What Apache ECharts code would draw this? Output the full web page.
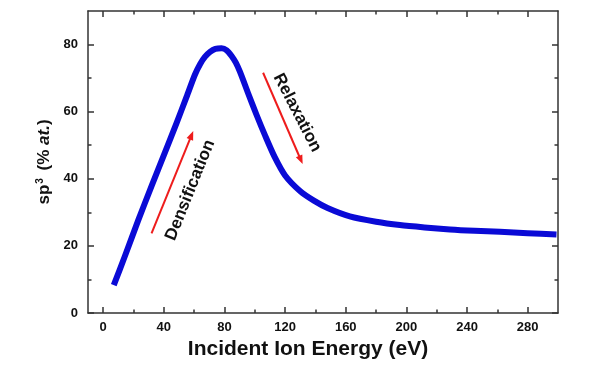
<!DOCTYPE html>
<html>
<head>
<meta charset="utf-8">
<script src="https://cdn.jsdelivr.net/npm/echarts@6/dist/echarts.min.js"></script>
<style>html,body{margin:0;padding:0;background:#fff}#c{width:600px;height:366px}</style>
</head>
<body>
<div id="c"></div>
<script>
// Curve: incident ion energy (eV) vs sp3 fraction (% at.)
var energy = [7.0, 14.3, 23.1, 31.9, 40.7, 48.4, 55.0, 60.5, 64.0, 67.1, 70.5, 74.0, 78.1, 81.5, 84.7, 87.5, 90.2, 95.6, 101.2, 106.7, 113.0, 120.0, 130.0, 139.0, 148.0, 162.7, 180.0, 195.7, 212.0, 228.7, 245.0, 261.7, 280.0, 299.0];
var sp3 = [8.3, 16.9, 27.6, 37.8, 47.8, 56.6, 64.4, 71.0, 74.2, 76.3, 77.8, 78.7, 78.9, 78.3, 76.6, 74.6, 71.9, 65.5, 59.0, 53.0, 46.6, 41.0, 36.3, 33.5, 31.3, 28.8, 27.2, 26.2, 25.5, 24.9, 24.5, 24.2, 23.8, 23.4];
var xMajorTicks = [0, 40, 80, 120, 160, 200, 240, 280];
var xMinorTicks = [20, 60, 100, 140, 180, 220, 260];
var yMajorTicks = [0, 20, 40, 60, 80];
var yMinorTicks = [10, 30, 50, 70];
var arrowDens = [[31.9, 23.7], [58.3, 53.0]];
var arrowRelax = [[105.5, 71.6], [130.4, 45.6]];
var labelDens = {text: 'Densification', at: [57.4, 36.6], angle: 68};
var labelRelax = {text: 'Relaxation', at: [128.0, 59.7], angle: -62.6};

var axisColor = '#333';
var font = 'Liberation Sans, Arial, sans-serif';
var chart = echarts.init(document.getElementById('c'));

function xAx(pos, custom, len, showLine, showLabel, name) {
  return {
    type: 'value', position: pos, min: -10, max: 300,
    axisLine: {show: showLine, onZero: false, lineStyle: {color: axisColor, width: 1.5}},
    axisTick: {show: true, inside: true, length: len, customValues: custom, lineStyle: {color: axisColor, width: 1.5}},
    axisLabel: {show: showLabel, customValues: custom, margin: 8, fontSize: 13, fontWeight: 'bold', color: '#111', fontFamily: font},
    splitLine: {show: false},
    name: name || '', nameLocation: 'middle', nameGap: 26,
    nameTextStyle: {fontSize: 21, fontWeight: 'bold', color: '#111', fontFamily: font, padding: [0, 30, 0, 0]}
  };
}
function yAx(pos, custom, len, showLine, showLabel, withName) {
  var o = {
    type: 'value', position: pos, min: 0, max: 90,
    axisLine: {show: showLine, onZero: false, lineStyle: {color: axisColor, width: 1.5}},
    axisTick: {show: true, inside: true, length: len, customValues: custom, lineStyle: {color: axisColor, width: 1.5}},
    axisLabel: {show: showLabel, customValues: custom, margin: 10, fontSize: 13, fontWeight: 'bold', color: '#111', fontFamily: font},
    splitLine: {show: false}
  };
  if (withName) {
    o.name = '{b|sp}{sup|3}{b| (% }{it|at.}{b|)}';
    o.nameLocation = 'middle';
    o.nameGap = 34;
    o.nameTextStyle = {
      fontSize: 17, fontWeight: 'bold', color: '#111', fontFamily: font,
      rich: {
        b: {fontSize: 17, fontWeight: 'bold', color: '#111', fontFamily: font},
        sup: {fontSize: 10, fontWeight: 'bold', color: '#111', fontFamily: font, verticalAlign: 'top', padding: [0, 3, 8, 1]},
        it: {fontSize: 17, fontWeight: 'bold', fontStyle: 'italic', color: '#111', fontFamily: font}
      }
    };
  }
  return o;
}

var option = {
  animation: false,
  backgroundColor: '#fff',
  grid: {left: 88, top: 11, right: 42, bottom: 53, containLabel: false},
  xAxis: [
    xAx('bottom', xMajorTicks, 6, true, true, 'Incident Ion Energy (eV)'),
    xAx('top', xMajorTicks, 6, true, false),
    xAx('bottom', xMinorTicks, 3.5, false, false),
    xAx('top', xMinorTicks, 3.5, false, false)
  ],
  yAxis: [
    yAx('left', yMajorTicks, 6, true, true, true),
    yAx('right', yMajorTicks, 6, true, false, false),
    yAx('left', yMinorTicks, 3.5, false, false, false),
    yAx('right', yMinorTicks, 3.5, false, false, false)
  ],
  series: [
    {
      type: 'line', xAxisIndex: 0, yAxisIndex: 0,
      data: energy.map(function (e, i) { return [e, sp3[i]]; }),
      smooth: 0.25, showSymbol: false, symbol: 'none',
      lineStyle: {color: '#0a0ad6', width: 6, cap: 'butt', join: 'round'},
      markLine: {
        silent: true, symbol: ['none', 'triangle'], symbolSize: [7, 9],
        label: {show: false},
        lineStyle: {color: '#ee1c1c', width: 2, type: 'solid'},
        data: [
          [{coord: arrowDens[0]}, {coord: arrowDens[1]}],
          [{coord: arrowRelax[0]}, {coord: arrowRelax[1]}]
        ]
      }
    }
  ]
};
chart.setOption(option);

function placeLabels() {
  var items = [labelDens, labelRelax].map(function (l) {
    var p = chart.convertToPixel({xAxisIndex: 0, yAxisIndex: 0}, l.at);
    return {
      type: 'text', x: p[0], y: p[1], rotation: l.angle * Math.PI / 180,
      style: {text: l.text, fill: '#111', font: 'bold 17px ' + font, align: 'center', verticalAlign: 'middle'}
    };
  });
  chart.setOption({graphic: items});
}
placeLabels();
</script>
</body>
</html>
